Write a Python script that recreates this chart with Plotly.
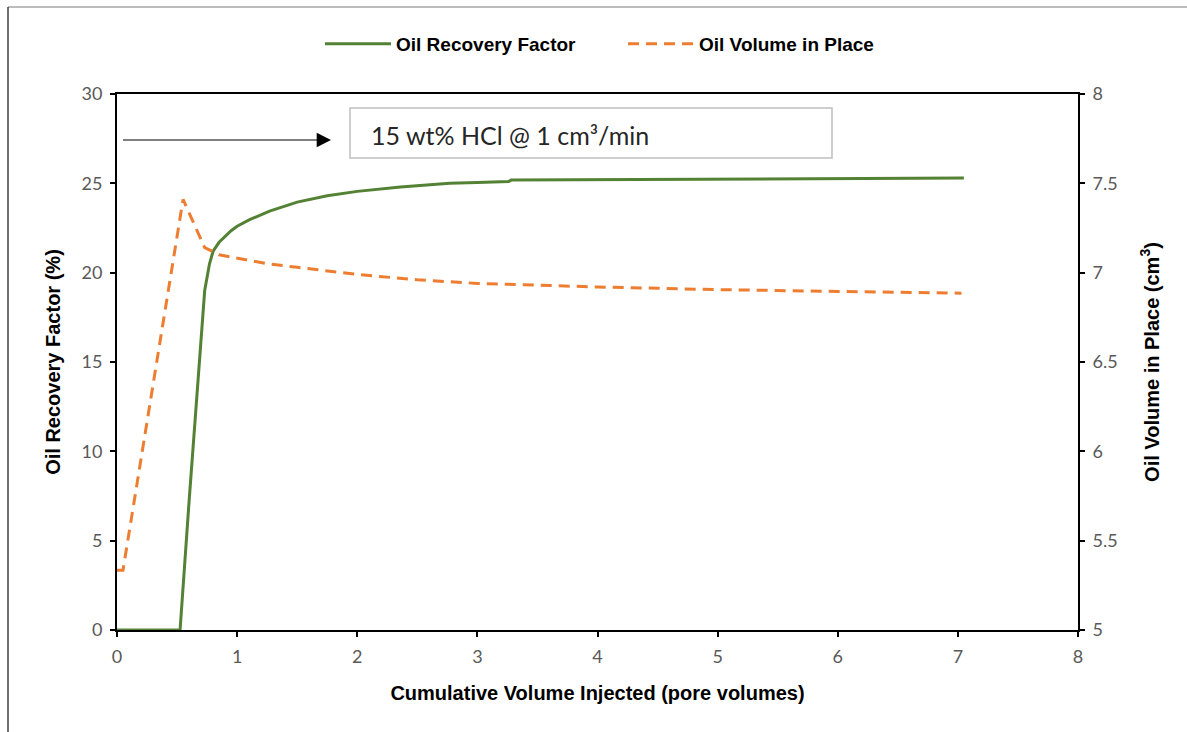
import plotly.graph_objects as go

# Cumulative volume injected (pore volumes) and oil recovery factor (%)
rf_pv = [0.0, 0.525, 0.6, 0.66, 0.7, 0.73, 0.77, 0.8, 0.85, 0.9, 0.95, 1.0, 1.1, 1.27,
         1.5, 1.75, 2.0, 2.36, 2.77, 3.0, 3.26, 3.28, 4.0, 5.0, 6.0, 7.05]
recovery_factor = [0.0, 0.0, 7.2, 12.9, 16.7, 19.0, 20.5, 21.2, 21.7, 22.05, 22.35, 22.6,
                   22.95, 23.45, 23.95, 24.3, 24.55, 24.8, 25.0, 25.05, 25.1, 25.18,
                   25.2, 25.22, 25.27, 25.3]

# Cumulative volume injected (pore volumes) and oil volume in place (cm3)
ovip_pv = [0.0, 0.05, 0.55, 0.73, 0.85, 1.0, 1.25, 1.5, 2.0, 2.5, 3.0, 3.5, 4.0, 5.0,
           6.0, 7.03]
oil_volume = [5.335, 5.335, 7.41, 7.14, 7.1, 7.08, 7.05, 7.03, 6.99, 6.96, 6.94, 6.93,
              6.92, 6.905, 6.895, 6.885]

x_ticks = [0, 1, 2, 3, 4, 5, 6, 7, 8]
y1_ticks = [0, 5, 10, 15, 20, 25, 30]
y2_ticks = [5, 5.5, 6, 6.5, 7, 7.5, 8]

W, H = 1187, 732
ML, MR, MT, MB = 117, 109, 94, 102
pw, ph = W - ML - MR, H - MT - MB

def px_x(p):
    return (p - ML) / pw

def px_y(p):
    return (H - MB - p) / ph

tick_font = dict(family="Lato, Carlito, sans-serif", size=18, color="#595959")
title_font = dict(family="Liberation Sans, Arial, sans-serif", size=20, color="#000000")

fig = go.Figure()
fig.add_trace(go.Scatter(
    x=rf_pv, y=recovery_factor, name="Oil Recovery Factor", mode="lines",
    line=dict(color="#548235", width=3), yaxis="y"))
fig.add_trace(go.Scatter(
    x=ovip_pv, y=oil_volume, name="Oil Volume in Place", mode="lines",
    line=dict(color="#ED7D31", width=3, dash="11px,7px"), yaxis="y2"))

axis_common = dict(showgrid=False, zeroline=False, showline=True, linecolor="#000000",
                   linewidth=2, ticks="outside", ticklen=5, tickwidth=2,
                   tickcolor="#000000", tickfont=tick_font, ticklabelstandoff=4)

fig.update_layout(
    width=W, height=H,
    margin=dict(l=ML, r=MR, t=MT, b=MB),
    paper_bgcolor="white", plot_bgcolor="white",
    showlegend=True,
    legend=dict(orientation="h", x=px_x(320), xanchor="left", y=px_y(44), yanchor="middle",
                font=dict(family="Liberation Sans, Arial, sans-serif", size=19,
                          color="#000000", weight="bold"),
                itemwidth=66, traceorder="normal", bgcolor="rgba(0,0,0,0)",
                entrywidth=222),
    xaxis=dict(range=[0, 8], tickvals=x_ticks, mirror=True,
               title=dict(text="<b>Cumulative Volume Injected (pore volumes)</b>",
                          font=title_font, standoff=20),
               **axis_common),
    yaxis=dict(range=[0, 30], tickvals=y1_ticks,
               title=dict(text="<b>Oil Recovery Factor (%)</b>", font=title_font,
                          standoff=16),
               **axis_common),
    yaxis2=dict(range=[5, 8], tickvals=y2_ticks, overlaying="y", side="right",
                ticktext=[f"{v:g}" for v in y2_ticks],
                title=dict(text="<b>Oil Volume in Place (cm<sup>3</sup>)</b>",
                           font=title_font, standoff=28),
                **axis_common),
)

# injection condition label in a framed box, with an arrow pointing to it
fig.add_shape(type="rect", xref="paper", yref="paper",
              x0=px_x(350), x1=px_x(832), y0=px_y(158), y1=px_y(108),
              line=dict(color="#BFBFBF", width=1.5), fillcolor="white")
fig.add_annotation(xref="paper", yref="paper", x=px_x(369), y=px_y(135),
                   xanchor="left", yanchor="middle", showarrow=False,
                   text="15 wt% HCl @ 1 cm³/min",
                   font=dict(family="Lato, Carlito, sans-serif", size=25, color="#262626"))
fig.add_annotation(xref="paper", yref="paper", x=px_x(331), y=px_y(140),
                   axref="pixel", ayref="pixel", ax=-211, ay=0,
                   text=" ", showarrow=True, arrowhead=2, arrowsize=2.6,
                   arrowwidth=1.1, arrowcolor="#000000")

# outer frame edges of the figure
fig.add_shape(type="line", xref="paper", yref="paper",
              x0=px_x(8), x1=px_x(W), y0=px_y(7), y1=px_y(7),
              line=dict(color="#A6A6A6", width=1.5))
fig.add_shape(type="line", xref="paper", yref="paper",
              x0=px_x(8), x1=px_x(8), y0=px_y(7), y1=px_y(H),
              line=dict(color="#404040", width=1.5))

fig.write_html("out.html")
